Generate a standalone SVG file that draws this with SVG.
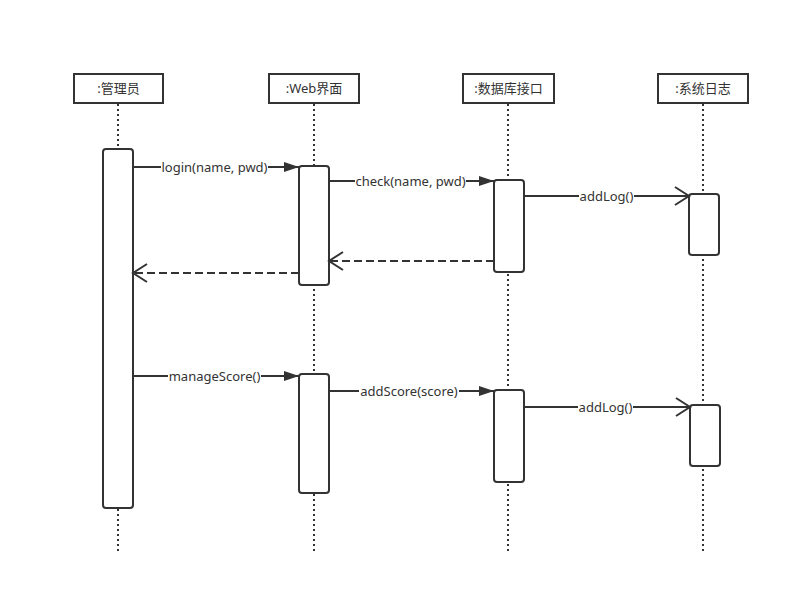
<svg xmlns="http://www.w3.org/2000/svg" width="811" height="615" viewBox="0 0 811 615">
<style>
.hd{fill:#fff;stroke:#333;stroke-width:2}
.act{fill:#fff;stroke:#333;stroke-width:2}
.life{stroke:#333;stroke-width:2;stroke-dasharray:2 3;fill:none}
.msg{stroke:#333;stroke-width:2;fill:none}
.ret{stroke:#333;stroke-width:2;fill:none;stroke-dasharray:8 4}
.t{font-family:"Noto Sans","Noto Sans CJK SC",sans-serif;font-size:13px;fill:#333;text-anchor:middle}
.bg{fill:#fff}
</style>
<defs>
<marker id="fill" markerWidth="16" markerHeight="12" refX="15" refY="6" orient="auto" markerUnits="userSpaceOnUse">
<path d="M0,1 L15,6 L0,11 Z" fill="#333"/>
</marker>
<marker id="open" markerWidth="18" markerHeight="20" refX="16" refY="10" orient="auto" markerUnits="userSpaceOnUse">
<path d="M2,1 L16,10 L2,19" fill="none" stroke="#333" stroke-width="2"/>
</marker>
</defs>
<rect width="811" height="615" fill="#fff"/>
<g id="lifelines">
<line class="life" x1="118" y1="104" x2="118" y2="553"/>
<line class="life" x1="314" y1="104" x2="314" y2="553"/>
<line class="life" x1="508" y1="104" x2="508" y2="553"/>
<line class="life" x1="703" y1="104" x2="703" y2="553"/>
</g>
<g id="n-admin"><rect class="hd" x="74" y="74" width="89" height="29"/><text class="t" x="118.5" y="93">:管理员</text></g>
<g id="n-web"><rect class="hd" x="269" y="74" width="90" height="29"/><text class="t" x="314" y="93">:Web界面</text></g>
<g id="n-db"><rect class="hd" x="463" y="74" width="91" height="29"/><text class="t" x="508.5" y="93">:数据库接口</text></g>
<g id="n-log"><rect class="hd" x="658" y="74" width="90" height="29"/><text class="t" x="703" y="93">:系统日志</text></g>
<g id="activations">
<rect class="act" x="103" y="149" width="30" height="359" rx="3"/>
<rect class="act" x="299" y="166" width="30" height="119" rx="3"/>
<rect class="act" x="494" y="180" width="30" height="92" rx="3"/>
<rect class="act" x="689" y="194" width="30" height="61" rx="3"/>
<rect class="act" x="299" y="374" width="30" height="119" rx="3"/>
<rect class="act" x="494" y="390" width="30" height="92" rx="3"/>
<rect class="act" x="690" y="405" width="30" height="61" rx="3"/>
</g>
<g id="connectors">
<line class="msg" x1="133" y1="167" x2="299" y2="167" marker-end="url(#fill)"/>
<rect class="bg" x="161" y="159" width="107" height="16"/><text class="t" x="214.5" y="172">login(name, pwd)</text>
<line class="msg" x1="329" y1="181" x2="494" y2="181" marker-end="url(#fill)"/>
<rect class="bg" x="355" y="173" width="111" height="16"/><text class="t" x="410.5" y="186">check(name, pwd)</text>
<line class="msg" x1="524" y1="196" x2="689" y2="196" marker-end="url(#open)"/>
<rect class="bg" x="579" y="188" width="55" height="16"/><text class="t" x="606.5" y="201">addLog()</text>
<line class="ret" x1="494" y1="261" x2="329" y2="261" marker-end="url(#open)"/>
<line class="ret" x1="299" y1="273" x2="133" y2="273" marker-end="url(#open)"/>
<line class="msg" x1="133" y1="376" x2="299" y2="376" marker-end="url(#fill)"/>
<rect class="bg" x="168" y="368" width="93" height="16"/><text class="t" x="214.5" y="381">manageScore()</text>
<line class="msg" x1="329" y1="391" x2="494" y2="391" marker-end="url(#fill)"/>
<rect class="bg" x="359" y="383" width="100" height="16"/><text class="t" x="409" y="396">addScore(score)</text>
<line class="msg" x1="524" y1="407" x2="690" y2="407" marker-end="url(#open)"/>
<rect class="bg" x="578" y="399" width="55" height="16"/><text class="t" x="605.5" y="412">addLog()</text>
</g>
</svg>
